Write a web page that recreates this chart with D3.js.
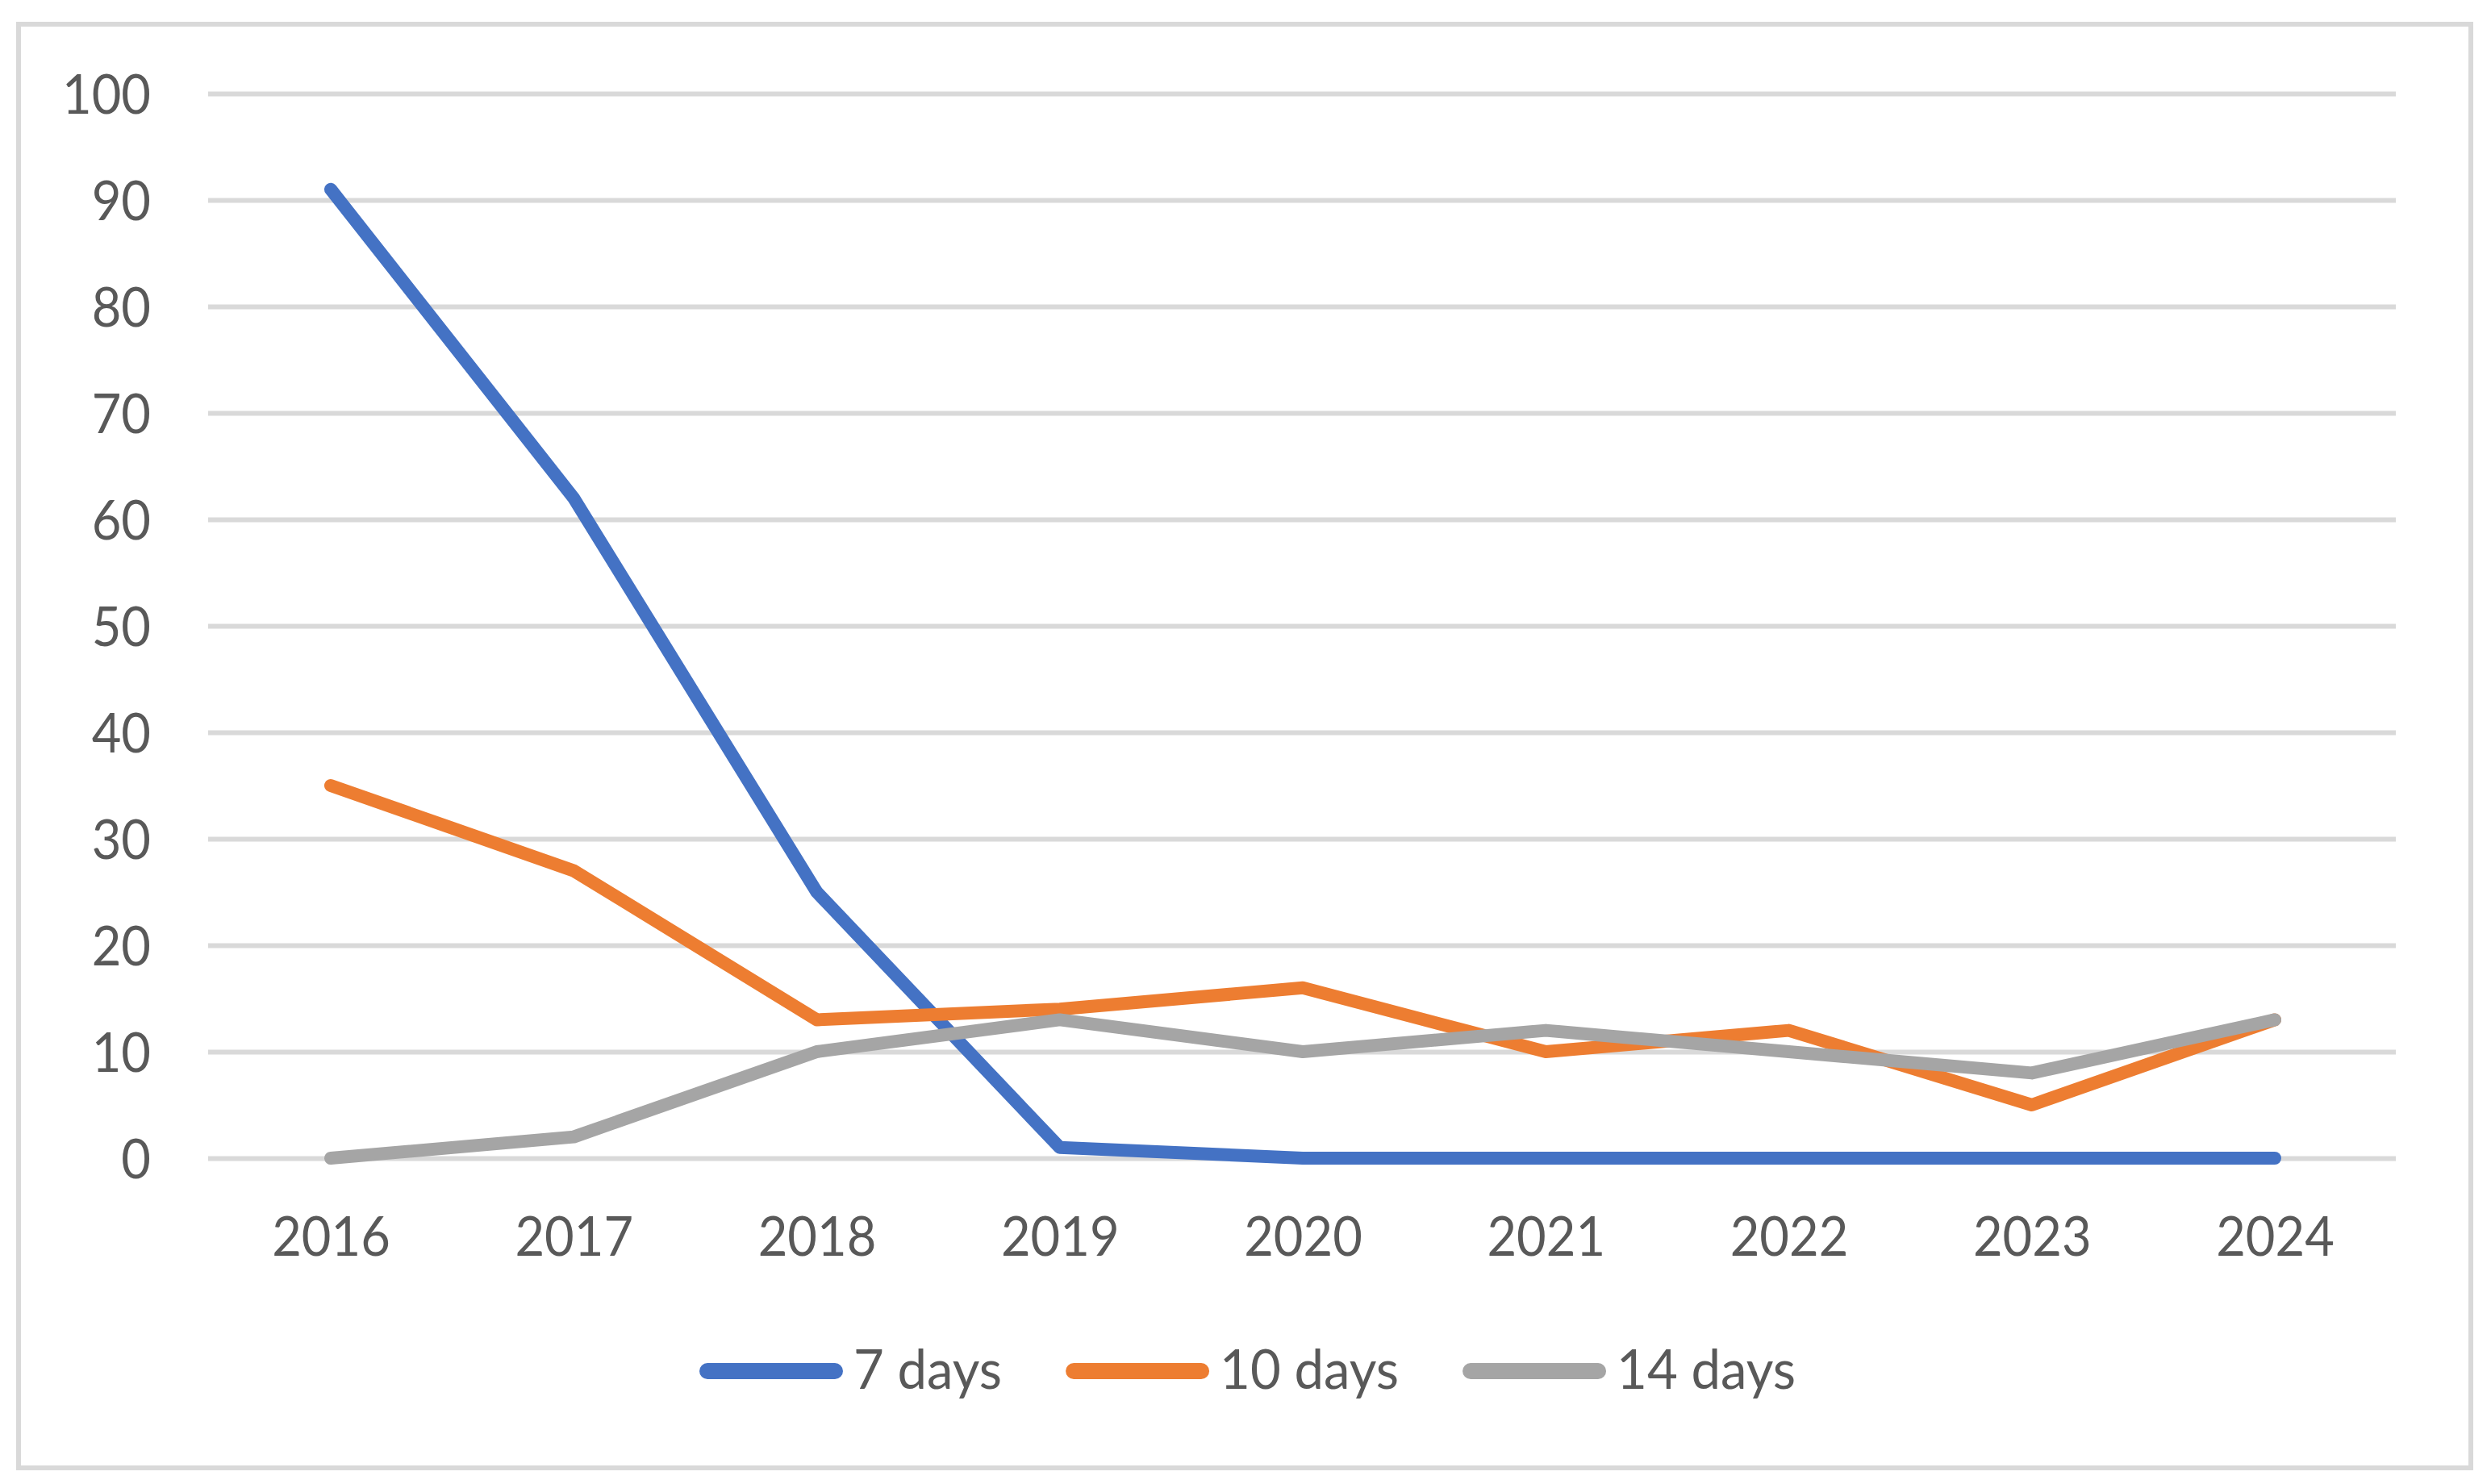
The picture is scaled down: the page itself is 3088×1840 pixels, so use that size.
<!DOCTYPE html>
<html><head><meta charset="utf-8">
<script src="https://cdn.jsdelivr.net/npm/d3@7"></script>
<style>
body{margin:0;background:#fff;}
svg text{font-family:Lato,"Open Sans","Liberation Sans",sans-serif;fill:#595959;}
</style>
</head><body>
<svg id="c" width="3088" height="1840"></svg>
<script>
// ---- data ----
const years = ["2016","2017","2018","2019","2020","2021","2022","2023","2024"];
const sevenDays = [91, 62, 25, 1, 0, 0, 0, 0, 0];
const tenDays = [35, 27, 13, 14, 16, 10, 12, 5, 13];
const fourteenDays = [0, 2, 10, 13, 10, 12, 10, 8, 13];
const seriesNames = ["7 days", "10 days", "14 days"];
const yTicks = [0, 10, 20, 30, 40, 50, 60, 70, 80, 90, 100];
const colors = ["#4472C4", "#ED7D31", "#A5A5A5"];

const series = [sevenDays, tenDays, fourteenDays].map((v, i) => ({name: seriesNames[i], values: v, color: colors[i]}));

// ---- layout ----
const FS = 68, SX = 0.93, LSX = 0.96;
const plotL = 258, plotR = 2970, plotT = 116, plotB = 1436;
const svg = d3.select("#c");
svg.append("rect").attr("width", 3088).attr("height", 1840).attr("fill", "#fff");
svg.append("rect").attr("x", 23).attr("y", 30).attr("width", 3040).attr("height", 1790)
  .attr("fill", "none").attr("stroke", "#D9D9D9").attr("stroke-width", 6);

const x = d3.scalePoint().domain(years).range([410, 2820]);
const y = d3.scaleLinear().domain([0, 100]).range([plotB, plotT]);

function squeeze(sel, origin, sx) {
  sel.style("font-size", FS + "px")
     .style("transform-box", "fill-box")
     .style("transform-origin", origin)
     .style("transform", `scaleX(${sx})`);
}

// y axis + gridlines
const gy = svg.append("g").attr("transform", `translate(${plotL},0)`)
  .call(d3.axisLeft(y).tickValues(yTicks).tickSize(-(plotR - plotL)).tickPadding(71).tickFormat(d3.format("d")));
gy.select(".domain").remove();
gy.selectAll(".tick line").attr("stroke", "#D9D9D9").attr("stroke-width", 6);
gy.selectAll(".tick text").attr("dy", "0.36em").call(squeeze, "right center", SX);

// x axis
const gx = svg.append("g").attr("transform", `translate(0,${plotB})`)
  .call(d3.axisBottom(x).tickSize(0).tickPadding(0));
gx.select(".domain").remove();
gx.selectAll(".tick text").attr("y", 121).attr("dy", "0").call(squeeze, "center", SX);

// lines
const line = d3.line().x((d, i) => x(years[i])).y(d => y(d));
svg.append("g").selectAll("path").data(series).join("path")
  .attr("d", d => line(d.values))
  .attr("fill", "none").attr("stroke", d => d.color).attr("stroke-width", 16)
  .attr("stroke-linejoin", "round").attr("stroke-linecap", "round");

// legend
const legY = 1700, swLen = 178, sw = 20, txtGap = 13, entryGap = 79;
const leg = svg.append("g");
const items = leg.selectAll("g").data(series).join("g");
items.append("line").attr("x1", sw / 2).attr("x2", swLen - sw / 2).attr("y1", legY).attr("y2", legY)
  .attr("stroke", d => d.color).attr("stroke-width", sw).attr("stroke-linecap", "round");
items.append("text").attr("x", swLen + txtGap).attr("y", legY + 22).text(d => d.name).call(squeeze, "left center", LSX);
const widths = [];
items.each(function () {
  const t = d3.select(this).select("text").node();
  widths.push(swLen + txtGap + t.getComputedTextLength() * LSX);
});
let cur = 867;
items.attr("transform", (d, i) => {
  const tx = cur; cur += widths[i] + entryGap; return `translate(${tx},0)`;
});
</script>
</body></html>
